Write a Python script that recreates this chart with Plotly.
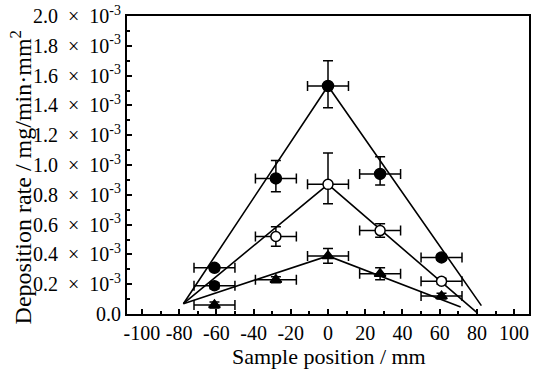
import plotly.graph_objects as go

# Sample positions (mm)
x_pos = [-61, -28, 0, 28, 61]
x_err = [11, 11, 11, 11, 11]

# Deposition rate values (units of 1e-3 mg/min·mm²)
s1_y = [0.31, 0.91, 1.53, 0.94, 0.38]
s1_up = [0.02, 0.12, 0.17, 0.115, 0.02]
s1_dn = [0.02, 0.09, 0.145, 0.075, 0.02]

s2_y = [0.19, 0.52, 0.87, 0.56, 0.22]
s2_up = [0.02, 0.065, 0.21, 0.045, 0.02]
s2_dn = [0.02, 0.065, 0.13, 0.045, 0.02]
s2_fill = ["black", "white", "white", "white", "white"]

s3_y = [0.06, 0.23, 0.39, 0.27, 0.12]
s3_up = [0.02, 0.02, 0.05, 0.04, 0.02]
s3_dn = [0.02, 0.02, 0.05, 0.04, 0.02]

# Fitted lines
fit1_x = [-77.7, 0, 82.4]
fit1_y = [0.069, 1.53, 0.056]
fit2_x = [-77.7, 0, 80.2]
fit2_y = [0.069, 0.87, 0.007]
fit3_x = [-77.7, 0, 71.3]
fit3_y = [0.069, 0.39, 0.047]

y_ticks = [0.0, 0.2, 0.4, 0.6, 0.8, 1.0, 1.2, 1.4, 1.6, 1.8, 2.0]
y_ticktext = ["0.0"] + [f"{v:.1f}\u2002×\u200210<sup>-3</sup>" for v in y_ticks[1:]]
x_ticks = [-100, -80, -60, -40, -20, 0, 20, 40, 60, 80, 100]
x_ticktext = ["-100", "-80", "-60", "-40", "-20", "0", "20", "40", "60", "80", "100"]

scale = 1e-3
FONT = "Liberation Serif, Times New Roman, serif"

fig = go.Figure()

for fx, fy in [(fit1_x, fit1_y), (fit2_x, fit2_y), (fit3_x, fit3_y)]:
    fig.add_trace(go.Scatter(
        x=fx, y=[v * scale for v in fy], mode="lines",
        line=dict(color="black", width=1.6), showlegend=False, hoverinfo="skip"))

def add_series(ys, up, dn, symbol, fill, size):
    fig.add_trace(go.Scatter(
        x=x_pos, y=[v * scale for v in ys], mode="markers",
        marker=dict(symbol=symbol, size=size, color=fill,
                    line=dict(color="black", width=1.5)),
        error_y=dict(type="data", symmetric=False,
                     array=[v * scale for v in up],
                     arrayminus=[v * scale for v in dn],
                     color="black", thickness=1.5, width=5),
        error_x=dict(type="data", array=x_err, color="black",
                     thickness=1.5, width=5),
        showlegend=False))

add_series(s1_y, s1_up, s1_dn, "circle", "black", 11)
add_series(s2_y, s2_up, s2_dn, "circle", s2_fill, 10)
add_series(s3_y, s3_up, s3_dn, "triangle-up", "black", 10)

axis_common = dict(
    showline=True, linecolor="black", linewidth=2, mirror=True,
    ticks="inside", ticklen=5, tickwidth=1.5, tickcolor="black",
    showgrid=False, zeroline=False,
)

fig.update_xaxes(
    range=[-108, 108], tickvals=x_ticks, ticktext=x_ticktext,
    tickfont=dict(family=FONT, size=20, color="black"),
    minor=dict(ticks="inside", ticklen=3, dtick=10, tickcolor="black", tickwidth=1.5),
    **axis_common)
fig.update_yaxes(
    range=[0, 2.0 * scale], tickvals=[v * scale for v in y_ticks], ticktext=y_ticktext,
    tickfont=dict(family=FONT, size=20, color="black"),
    minor=dict(ticks="inside", ticklen=3, dtick=0.1 * scale, tickcolor="black", tickwidth=1.5),
    **axis_common)

fig.add_annotation(
    text="Sample position / mm", xref="paper", yref="paper",
    x=0.502, y=-0.144, xanchor="center", yanchor="middle", showarrow=False,
    font=dict(family=FONT, size=22, color="black"))
fig.add_annotation(
    text="Deposition rate / mg/min·mm<sup>2</sup>", xref="paper", yref="paper",
    x=-0.265, y=0.46, xanchor="center", yanchor="middle", showarrow=False, textangle=-90,
    font=dict(family=FONT, size=24, color="black"))

fig.update_layout(
    width=533, height=369,
    margin=dict(l=127, r=2, t=16, b=55),
    plot_bgcolor="white", paper_bgcolor="white",
)

fig.write_html("out.html", config={"displayModeBar": False},
               post_script="document.body.style.margin='0';")
